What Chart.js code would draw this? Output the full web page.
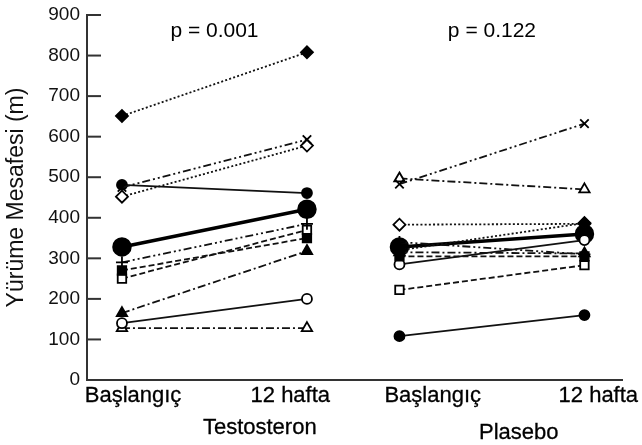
<!DOCTYPE html>
<html>
<head>
<meta charset="utf-8">
<script src="https://cdn.jsdelivr.net/npm/chart.js@4.4.0/dist/chart.umd.min.js"></script>
<style>
  html, body { margin: 0; padding: 0; background: #fff; }
  #wrap { width: 642px; height: 445px; }
</style>
</head>
<body>
<div id="wrap"><canvas id="walkChart"></canvas></div>
<script>
// time points on the x axis: testosteron pair, then plasebo pair
var positions = [0, 1, 1.5, 2.5];
var xLabels = ['Başlangıç', '12 hafta', 'Başlangıç', '12 hafta'];
var groupNames = ['Testosteron', 'Plasebo'];
var pValues = ['p = 0.001', 'p = 0.122'];
var yTicks = [0, 100, 200, 300, 400, 500, 600, 700, 800, 900];

// one entry per patient, same order in every array
var markers = ['filledDiamond', 'x', 'openDiamond', 'filledCircle', 'plus', 'filledSquare', 'openSquare', 'filledTriangle', 'openCircle', 'openTriangle'];
var testoBase = [651, 475, 452, 481, 290, 270, 250, 165, 140, 128];
var testo12 = [808, 593, 578, 461, 385, 350, 370, 318, 200, 128];
var plaseboBase = [320, 483, 383, 108, 340, 305, 222, 315, 285, 497];
var plasebo12 = [387, 632, 385, 160, 310, 305, 283, 312, 345, 470];
var testoMean = [328, 421];
var plaseboMean = [328, 360];

// where the text labels sit, in x axis units
var labelX = [0.06, 0.91, 1.68, 2.575];
var groupX = [0.745, 2.145];

var ink = '#000';
var DOT = [2, 2.2], DASH = [6, 3], DASHDOT = [8, 3, 2, 3], DASHDOTDOT = [8, 3, 2, 3, 2, 3];
var styles = {
  filledDiamond: { shape: 'rectRot', fill: ink, dash: DOT, r: 6 },
  x: { shape: 'crossRot', fill: ink, dash: DASHDOTDOT, r: 6 },
  openDiamond: { shape: 'rectRot', fill: '#fff', dash: DOT, r: 6 },
  filledCircle: { shape: 'circle', fill: ink, dash: [], r: 5 },
  plus: { shape: 'cross', fill: ink, dash: DASHDOTDOT, r: 6 },
  filledSquare: { shape: 'rect', fill: ink, dash: DASH, r: 6 },
  openSquare: { shape: 'rect', fill: '#fff', dash: DASH, r: 6 },
  filledTriangle: { shape: 'triangle', fill: ink, dash: DASHDOT, r: 6 },
  openCircle: { shape: 'circle', fill: '#fff', dash: [], r: 5 },
  openTriangle: { shape: 'triangle', fill: '#fff', dash: DASHDOT, r: 6 }
};

function patientSet(m, x0, x1, a, b) {
  var s = styles[m];
  return {
    data: [{ x: x0, y: a }, { x: x1, y: b }],
    showLine: true,
    borderColor: '#111',
    borderWidth: 1.8,
    borderDash: s.dash,
    pointStyle: s.shape,
    pointRadius: s.r,
    pointBackgroundColor: s.fill,
    pointBorderColor: ink,
    pointBorderWidth: 1.8
  };
}

var datasets = [];
markers.forEach(function (m, i) {
  datasets.push(patientSet(m, positions[0], positions[1], testoBase[i], testo12[i]));
  datasets.push(patientSet(m, positions[2], positions[3], plaseboBase[i], plasebo12[i]));
});
[[positions[0], positions[1], testoMean], [positions[2], positions[3], plaseboMean]].forEach(function (g) {
  datasets.push({
    data: [{ x: g[0], y: g[2][0] }, { x: g[1], y: g[2][1] }],
    showLine: true,
    borderColor: ink,
    borderWidth: 3.5,
    pointStyle: 'circle',
    pointRadius: 8,
    pointBackgroundColor: ink,
    pointBorderColor: ink
  });
});

var textPlugin = {
  id: 'textPlugin',
  afterDraw: function (chart) {
    var ctx = chart.ctx, xs = chart.scales.x, ys = chart.scales.y, area = chart.chartArea;
    ctx.save();
    // inside tick marks on the y axis
    ctx.strokeStyle = '#333';
    ctx.lineWidth = 2;
    yTicks.forEach(function (v) {
      var py = ys.getPixelForValue(v);
      ctx.beginPath();
      ctx.moveTo(area.left, py);
      ctx.lineTo(area.left + 14, py);
      ctx.stroke();
    });
    ctx.fillStyle = ink;
    ctx.strokeStyle = ink;
    ctx.lineWidth = 0.3;
    ctx.textAlign = 'center';
    ctx.textBaseline = 'middle';
    ctx.font = '22px "Liberation Sans", Arial, sans-serif';
    xLabels.forEach(function (t, i) {
      var px = xs.getPixelForValue(labelX[i]);
      ctx.strokeText(t, px, area.bottom + 16);
      ctx.fillText(t, px, area.bottom + 16);
    });
    groupNames.forEach(function (t, i) {
      var px = xs.getPixelForValue(groupX[i]);
      ctx.strokeText(t, px, area.bottom + 48 + i * 5);
      ctx.fillText(t, px, area.bottom + 48 + i * 5);
    });
    ctx.font = '21px "Liberation Sans", Arial, sans-serif';
    pValues.forEach(function (t, i) {
      var mid = (positions[i * 2] + positions[i * 2 + 1]) / 2;
      ctx.fillText(t, xs.getPixelForValue(mid), area.top + 16);
    });
    ctx.restore();
  }
};

new Chart(document.getElementById('walkChart'), {
  type: 'scatter',
  data: { datasets: datasets },
  plugins: [textPlugin],
  options: {
    responsive: true,
    maintainAspectRatio: false,
    animation: false,
    events: [],
    layout: { padding: { left: 0, top: 15, right: 20, bottom: 0 } },
    plugins: { legend: { display: false }, tooltip: { enabled: false } },
    scales: {
      x: {
        type: 'linear',
        min: -0.189,
        max: 2.703,
        ticks: { display: false },
        grid: { display: false },
        border: { display: true, color: '#333', width: 2 },
        afterFit: function (s) { s.height = 65; s.paddingLeft = 0; s.paddingRight = 0; }
      },
      y: {
        min: 0,
        max: 900,
        afterBuildTicks: function (s) { s.ticks = yTicks.map(function (v) { return { value: v }; }); },
        ticks: {
          padding: 7,
          color: '#111',
          font: { family: '"Liberation Sans", Arial, sans-serif', size: 19 }
        },
        grid: { display: false, drawTicks: false },
        border: { display: true, color: '#333', width: 2 },
        title: {
          display: true,
          text: 'Yürüme Mesafesi (m)',
          color: '#111',
          font: { family: '"Liberation Sans", Arial, sans-serif', size: 23 },
          padding: { top: 3, bottom: 0 }
        },
        afterFit: function (s) { s.width = 87; s.paddingTop = 0; s.paddingBottom = 0; }
      }
    }
  }
});
</script>
</body>
</html>
